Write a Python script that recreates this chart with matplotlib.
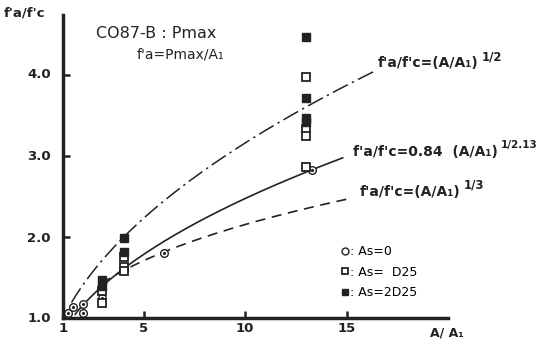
import numpy as np
import matplotlib
matplotlib.use("Agg")
import matplotlib.pyplot as plt
from matplotlib.lines import Line2D

plt.rcParams['font.family'] = ['DejaVu Sans']

# datos (A/A1, f'a/f'c)
as0_x = [1.25, 1.5, 2.0, 2.0, 2.9, 6.0, 13.3]
as0_y = [1.06, 1.14, 1.17, 1.06, 1.25, 1.80, 2.83]

d25_x = [2.9, 2.9, 4.0, 4.0, 4.0, 13.0, 13.0, 13.0, 13.0]
d25_y = [1.33, 1.19, 1.75, 1.63, 1.58, 3.97, 3.33, 3.25, 2.87]

d2_x = [2.9, 2.9, 4.0, 4.0, 13.0, 13.0, 13.0, 13.0]
d2_y = [1.47, 1.39, 1.99, 1.82, 4.47, 3.72, 3.47, 3.42]

# curvas
x_raiz = np.linspace(1.42, 16.3, 200)
x_084 = np.linspace(1.6, 14.8, 200)
x_cub = np.linspace(2.9, 15.1, 200)

W, H = 538, 342
fig = plt.figure(figsize=(W / 100, H / 100), dpi=100)
ax = fig.add_axes([63 / W, 1 - 318 / H, 385 / W, (318 - 15) / H])

def ftext(px, py, s, **kw):
    return fig.text(px / W, 1 - py / H, s, **kw)

def exponente(t, s, dy, size):
    # fraccion del exponente, justo despues del texto
    ax.annotate(s, xy=(1, 0.5), xycoords=t, xytext=(2, dy),
                textcoords='offset points', ha='left', va='center',
                fontsize=size, weight='bold', color='#222')

ax.plot(x_raiz, x_raiz ** 0.5, color='#222', lw=1.1, dashes=(11, 3, 1.5, 3))
ax.plot(x_084, 0.84 * x_084 ** (1 / 2.13), color='#222', lw=1.2)
ax.plot(x_cub, x_cub ** (1 / 3), color='#222', lw=1.2, dashes=(6, 4))

ax.plot(as0_x, as0_y, 'o', ms=5.5, mfc='white', mec='#222', mew=1.0)
ax.plot(as0_x, as0_y, '.', ms=2.5, color='#222')
ax.plot(d25_x, d25_y, 's', ms=5.5, mfc='white', mec='#222', mew=1.3)
ax.plot(d2_x, d2_y, 's', ms=6, color='#222')

ax.set_xlim(1, 20)
ax.set_ylim(1, 4.74)
ax.set_xticks([1, 5, 10, 15])
ax.set_yticks([1.0, 2.0, 3.0, 4.0])
ax.set_xticklabels([])
ax.set_yticklabels([])
ax.tick_params(direction='in', length=5, width=1.8, color='#222')
for s in ['top', 'right']:
    ax.spines[s].set_visible(False)
for s in ['left', 'bottom']:
    ax.spines[s].set_linewidth(2.5)
    ax.spines[s].set_color('#222')

# etiquetas de los ejes
for v, py in zip(['4.0', '3.0', '2.0', '1.0'], [75, 156, 238, 318]):
    ftext(51, py, v, ha='right', va='center', fontsize=9.5, weight='bold', color='#222')
for v, px in zip(['1', '5', '10', '15'], [63, 144, 245, 347]):
    ftext(px, 329, v, ha='center', va='center', fontsize=9.5, weight='bold', color='#222')
ftext(4, 13, "f'a/f'c", ha='left', va='center', fontsize=9.5, weight='bold', color='#222')
ftext(430, 333, "A/ A₁", ha='left', va='center', fontsize=9, weight='bold', color='#222')

ftext(96, 33, "CO87-B : Pmax", ha='left', va='center', fontsize=11.5, color='#222')
ftext(137, 54, "f'a=Pmax/A₁", ha='left', va='center', fontsize=10, color='#222')

t1 = ftext(378, 63, "f'a/f'c=(A/A₁)", ha='left', va='center', fontsize=10, weight='bold', color='#222')
exponente(t1, "1/2", 4, 8.5)
t2 = ftext(353, 152, "f'a/f'c=0.84  (A/A₁)", ha='left', va='center', fontsize=10, weight='bold', color='#222')
exponente(t2, "1/2.13", 5, 7.5)
t3 = ftext(360, 192, "f'a/f'c=(A/A₁)", ha='left', va='center', fontsize=10, weight='bold', color='#222')
exponente(t3, "1/3", 5, 8.5)

# leyenda
h0 = Line2D([], [], marker='o', ls='none', ms=5, mfc='white', mec='#222', mew=1.0)
h1 = Line2D([], [], marker='s', ls='none', ms=5, mfc='white', mec='#222', mew=1.3)
h2 = Line2D([], [], marker='s', ls='none', ms=5, color='#222')
ax.legend([h0, h1, h2], [': As=0', ': As=  D25', ': As=2D25'],
          loc='upper left', bbox_to_anchor=(335 / W, 1 - 239 / H),
          bbox_transform=fig.transFigure, frameon=False, handlelength=0.6,
          handletextpad=0.1, labelspacing=0.6, borderpad=0,
          prop={'size': 9})

fig.savefig("out.png", dpi=100)
